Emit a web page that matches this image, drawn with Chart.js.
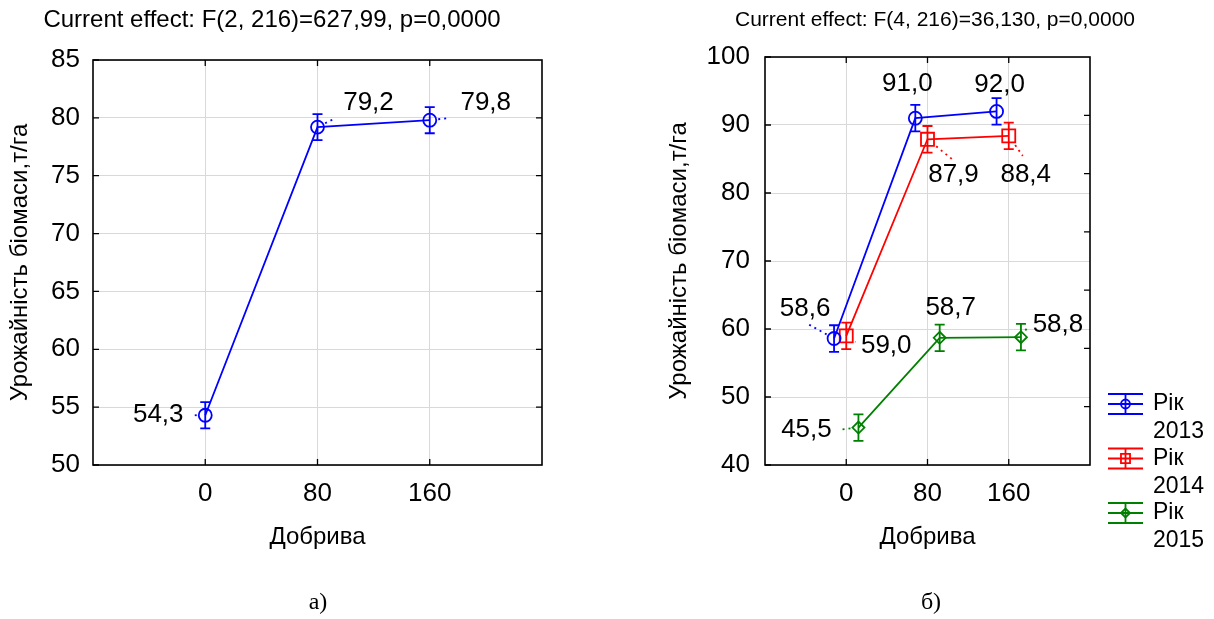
<!DOCTYPE html>
<html>
<head>
<meta charset="utf-8">
<script src="https://cdn.jsdelivr.net/npm/chart.js@4/dist/chart.umd.min.js"></script>
<style>
html,body{margin:0;padding:0;background:#fff;}
#wrap{position:relative;width:1214px;height:619px;overflow:hidden;}
.box{position:absolute;top:0;height:619px;}
#boxA{left:0;width:600px;}
#boxB{left:600px;width:614px;}
canvas{display:block;}
</style>
</head>
<body>
<div id="wrap">
  <div class="box" id="boxA"><canvas id="cA" width="600" height="619"></canvas></div>
  <div class="box" id="boxB"><canvas id="cB" width="614" height="619"></canvas></div>
</div>
<script>
// ---------- data ----------
const doses = ['0', '80', '160'];
const yieldAll = [54.3, 79.2, 79.8];
const errAll = [1.13, 1.13, 1.13];

const years = ['Рік 2013', 'Рік 2014', 'Рік 2015'];
const yield2013 = [58.6, 91.0, 92.0];
const yield2014 = [59.0, 87.9, 88.4];
const yield2015 = [45.5, 58.7, 58.8];
const err2013 = [1.95, 1.95, 1.95];
const err2014 = [1.95, 1.95, 1.95];
const err2015 = [1.95, 1.95, 1.95];

const titleA = 'Current effect: F(2, 216)=627,99, p=0,0000';
const titleB = 'Current effect: F(4, 216)=36,130, p=0,0000';
const yTitle = 'Урожайність біомаси,т/га';
const xTitle = 'Добрива';
const captionA = 'а)';
const captionB = 'б)';

// ---------- styles / layout (not data) ----------
const FONT = "'Liberation Sans', Arial, sans-serif";
Chart.defaults.font.family = FONT;
Chart.defaults.color = '#000';
const GRID = '#d9d9d9';
const TICK_SIZE = 26;
const LW = 1.8;
const colorsB = ['#0000ff', '#ff0000', '#008000'];
const pointStylesB = ['circle', 'rect', 'rectRot'];
const pointRadiiB = [6.5, 9.2, 6];
const legendRadiiB = [4.5, 6.4, 4.5];
const xOffsetsB = [-0.15, 0, 0.15];
// label placement relative to point: [textDx, textDy, leaderDx, leaderDy] (leader null = none)
const labelPosA = [[-47, 0, -13, 0], [51, -24.5, 18, -9], [56, -17.5, 18, -2]];
const labelPosB = [
  [[-29, -30, -27, -15], [-8, -34, null, null], [3, -27, null, null]],
  [[40, 10, 9, 6], [26, 36, 26, 21], [17, 39, 14, 20]],
  [[-52, 2, -19, 2], [11, -30, null, null], [37, -12, 6, -9]]
];

// ---------- plugins ----------
const errorBars = {
  id: 'errorBars',
  beforeDatasetsDraw(chart) {
    const ctx = chart.ctx, y = chart.scales.y;
    chart.data.datasets.forEach((ds, di) => {
      const meta = chart.getDatasetMeta(di);
      ctx.save();
      ctx.strokeStyle = ds.borderColor;
      ctx.lineWidth = LW;
      meta.data.forEach((pt, i) => {
        const v = ds.data[i].y, e = ds.errors[i];
        const y1 = y.getPixelForValue(v + e), y2 = y.getPixelForValue(v - e), cw = 5;
        ctx.beginPath();
        ctx.moveTo(pt.x, y1); ctx.lineTo(pt.x, y2);
        ctx.moveTo(pt.x - cw, y1); ctx.lineTo(pt.x + cw, y1);
        ctx.moveTo(pt.x - cw, y2); ctx.lineTo(pt.x + cw, y2);
        ctx.stroke();
      });
      ctx.restore();
    });
  }
};

const pointLabels = {
  id: 'pointLabels',
  afterDatasetsDraw(chart) {
    const ctx = chart.ctx;
    chart.data.datasets.forEach((ds, di) => {
      const meta = chart.getDatasetMeta(di);
      meta.data.forEach((pt, i) => {
        const v = ds.data[i].y;
        const [dx, dy, lx, ly] = ds.labelPos[i];
        ctx.save();
        if (lx !== null) {
          const len = Math.hypot(lx, ly) || 1;
          const r = ds.pointRadius + 2;
          ctx.strokeStyle = ds.borderColor;
          ctx.lineWidth = LW;
          ctx.setLineDash([2, 4]);
          ctx.beginPath();
          ctx.moveTo(pt.x + lx / len * r, pt.y + ly / len * r);
          ctx.lineTo(pt.x + lx, pt.y + ly);
          ctx.stroke();
        }
        ctx.setLineDash([]);
        ctx.fillStyle = '#000';
        ctx.font = TICK_SIZE + 'px ' + FONT;
        ctx.textAlign = 'center';
        ctx.textBaseline = 'middle';
        ctx.fillText(v.toFixed(1).replace('.', ','), pt.x + dx, pt.y + dy);
        ctx.restore();
      });
    });
  }
};

const frame = {
  id: 'frame',
  afterDraw(chart, args, opts) {
    const ctx = chart.ctx, a = chart.chartArea, x = chart.scales.x, y = chart.scales.y;
    const t = 6;
    ctx.save();
    ctx.strokeStyle = '#000';
    ctx.lineWidth = 1.6;
    ctx.strokeRect(a.left, a.top, a.right - a.left, a.bottom - a.top);
    ctx.lineWidth = 1.3;
    ctx.beginPath();
    x.ticks.forEach(tk => {
      const px = x.getPixelForValue(tk.value);
      ctx.moveTo(px, a.bottom); ctx.lineTo(px, a.bottom - t);
      ctx.moveTo(px, a.top); ctx.lineTo(px, a.top + t);
    });
    y.ticks.forEach(tk => {
      const py = y.getPixelForValue(tk.value);
      ctx.moveTo(a.left, py); ctx.lineTo(a.left + t, py);
    });
    const n = opts.rightDivisions;
    for (let k = 1; k < n; k++) {
      const py = a.top + (a.bottom - a.top) * k / n;
      ctx.moveTo(a.right, py); ctx.lineTo(a.right - t, py);
    }
    ctx.stroke();
    ctx.restore();
  }
};

const deco = {
  id: 'deco',
  afterDraw(chart, args, o) {
    const ctx = chart.ctx;
    ctx.save();
    ctx.fillStyle = '#000';
    ctx.textAlign = 'center';
    ctx.textBaseline = 'middle';
    ctx.font = o.titleSize + 'px ' + FONT;
    ctx.fillText(o.title, o.titleX, o.titleY);
    ctx.font = "24px 'Liberation Serif', 'Times New Roman', serif";
    ctx.fillText(o.caption, o.captionX, o.captionY);
    ctx.restore();
  }
};

const legendB = {
  id: 'legendB',
  afterDraw(chart, args, o) {
    const ctx = chart.ctx;
    chart.data.datasets.forEach((ds, i) => {
      const yc = o.y0 + i * o.step;
      const x1 = o.x0, x2 = o.x0 + 35, xm = (x1 + x2) / 2;
      ctx.save();
      ctx.strokeStyle = ds.borderColor;
      ctx.fillStyle = 'rgba(0,0,0,0)';
      ctx.lineWidth = LW;
      ctx.beginPath();
      [-10, 0, 10].forEach(d => { ctx.moveTo(x1, yc + d); ctx.lineTo(x2, yc + d); });
      ctx.moveTo(xm, yc - 10); ctx.lineTo(xm, yc + 10);
      ctx.stroke();
      Chart.helpers.drawPoint(ctx, {
        pointStyle: ds.pointStyle, radius: legendRadiiB[i], borderWidth: LW, rotation: 0
      }, xm, yc);
      ctx.fillStyle = '#000';
      ctx.font = '23px ' + FONT;
      ctx.textAlign = 'left';
      ctx.textBaseline = 'middle';
      const parts = ds.label.split(' ');
      ctx.fillText(parts[0], x2 + 10, yc);
      ctx.fillText(parts[1], x2 + 10, yc + 28);
      ctx.restore();
    });
  }
};

function xScale(height) {
  return {
    type: 'linear', min: -1, max: 3,
    afterBuildTicks: s => { s.ticks = doses.map((d, i) => ({ value: i })); },
    afterFit: s => { s.height = height; },
    ticks: { callback: v => doses[v], font: { size: TICK_SIZE }, padding: 13.5, maxRotation: 0, autoSkip: false },
    grid: { color: GRID, drawTicks: false, lineWidth: 1 },
    border: { display: false },
    title: { display: true, text: xTitle, font: { size: 24 }, padding: { top: 0, bottom: 3.6 } }
  };
}

// ---------- chart a) ----------
new Chart(document.getElementById('cA'), {
  type: 'line',
  data: {
    datasets: [{
      label: 'all',
      data: yieldAll.map((v, i) => ({ x: i, y: v })),
      errors: errAll,
      labelPos: labelPosA,
      borderColor: '#0000ff', borderWidth: LW,
      pointStyle: 'circle', pointRadius: 6.5, pointBorderWidth: LW,
      pointBorderColor: '#0000ff', pointBackgroundColor: 'rgba(0,0,0,0)',
      fill: false, tension: 0
    }]
  },
  options: {
    responsive: false, animation: false, events: [],
    layout: { padding: { top: 60, right: 58, bottom: 64, left: 0 } },
    plugins: {
      legend: { display: false }, tooltip: { enabled: false },
      frame: { rightDivisions: 7 },
      deco: { title: titleA, titleSize: 24, titleX: 272, titleY: 20, caption: captionA, captionX: 318, captionY: 603 }
    },
    scales: {
      x: xScale(90),
      y: {
        min: 50, max: 85,
        ticks: { stepSize: 5, font: { size: TICK_SIZE }, padding: 13 },
        afterFit: s => { s.width = 93; },
        grid: { color: GRID, drawTicks: false, lineWidth: 1 },
        border: { display: false },
        title: { display: true, text: yTitle, font: { size: 24 }, padding: { top: 5.6, bottom: 0 } }
      }
    }
  },
  plugins: [errorBars, pointLabels, frame, deco]
});

// ---------- chart б) ----------
const seriesB = [yield2013, yield2014, yield2015];
const errB = [err2013, err2014, err2015];
new Chart(document.getElementById('cB'), {
  type: 'line',
  data: {
    datasets: seriesB.map((vals, s) => ({
      label: years[s],
      data: vals.map((v, i) => ({ x: i + xOffsetsB[s], y: v })),
      errors: errB[s],
      labelPos: labelPosB[s],
      borderColor: colorsB[s], borderWidth: LW,
      pointStyle: pointStylesB[s], pointRadius: pointRadiiB[s], pointBorderWidth: LW,
      pointBorderColor: colorsB[s], pointBackgroundColor: 'rgba(0,0,0,0)',
      fill: false, tension: 0
    }))
  },
  options: {
    responsive: false, animation: false, events: [],
    layout: { padding: { top: 57, right: 124, bottom: 64, left: 60 } },
    plugins: {
      legend: { display: false }, tooltip: { enabled: false },
      frame: { rightDivisions: 7 },
      deco: { title: titleB, titleSize: 21, titleX: 335, titleY: 20, caption: captionB, captionX: 331, captionY: 603 },
      legendB: { x0: 508, y0: 404, step: 54.5 }
    },
    scales: {
      x: xScale(90),
      y: {
        min: 40, max: 100,
        ticks: { stepSize: 10, font: { size: TICK_SIZE }, padding: 15 },
        afterFit: s => { s.width = 105; },
        grid: { color: GRID, drawTicks: false, lineWidth: 1 },
        border: { display: false },
        title: { display: true, text: yTitle, font: { size: 24 }, padding: { top: 4.6, bottom: 0 } }
      }
    }
  },
  plugins: [errorBars, pointLabels, frame, deco, legendB]
});
</script>
</body>
</html>
